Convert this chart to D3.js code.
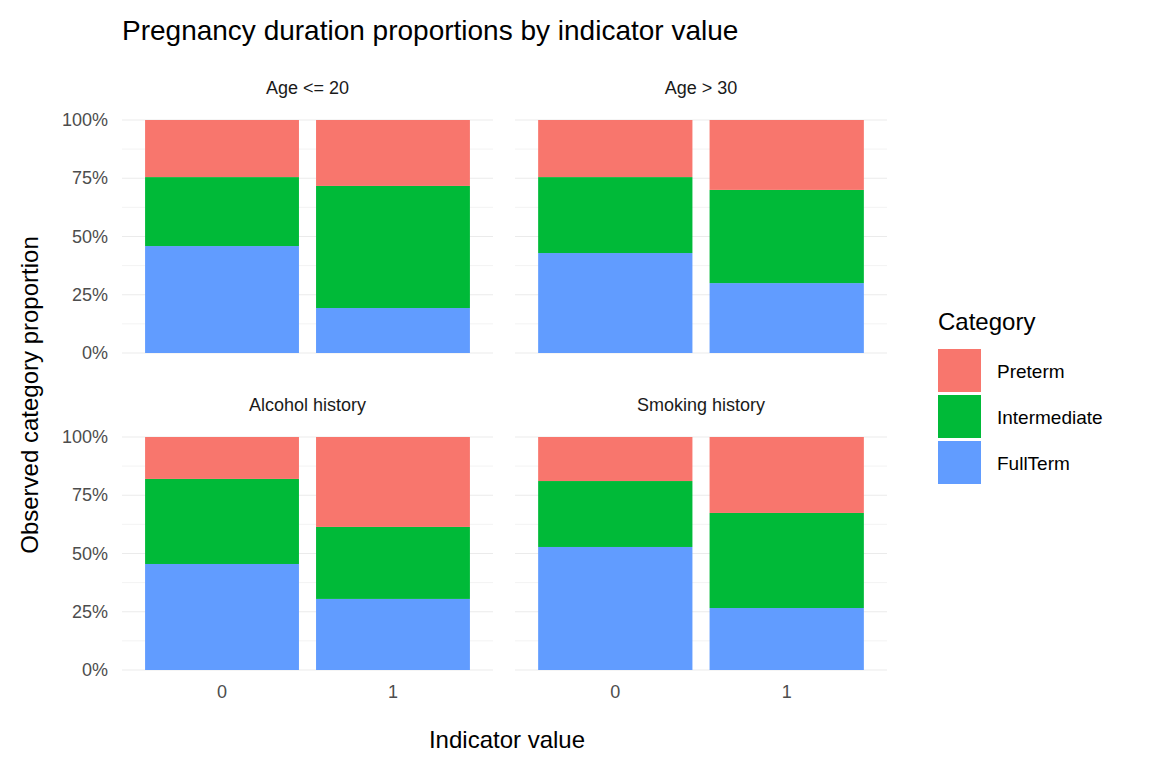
<!DOCTYPE html>
<html><head><meta charset="utf-8">
<script src="https://cdn.jsdelivr.net/npm/d3@7"></script>
<style>body{margin:0;background:#fff;font-family:Arial,"Liberation Sans",sans-serif}</style>
</head><body><div id="chart"></div>
<script>
const panels = ["Age <= 20", "Age > 30", "Alcohol history", "Smoking history"];
const indicators = ["0", "1"];
const categories = ["Preterm", "Intermediate", "FullTerm"];
const colors = ["#F8766D", "#00BA38", "#619CFF"];
// proportions per panel per indicator: [FullTerm, Intermediate, Preterm]
const fullTerm = [[0.459, 0.193], [0.429, 0.300], [0.455, 0.305], [0.528, 0.266]];
const intermediate = [[0.296, 0.524], [0.326, 0.400], [0.365, 0.309], [0.283, 0.408]];
const preterm = [[0.245, 0.283], [0.245, 0.300], [0.180, 0.386], [0.189, 0.326]];
const yTicks = [0, 0.25, 0.5, 0.75, 1];

const svg = d3.select("#chart").append("svg").attr("width", 1152).attr("height", 768);

svg.append("text").attr("x", 122).attr("y", 40).attr("font-size", 28).attr("fill", "#000")
    .text("Pregnancy duration proportions by indicator value");

const cols = [[122, 493], [515, 887]];
const rows = [[120, 353], [437, 670]];

panels.forEach((name, i) => {
    const c = cols[i % 2], r = rows[Math.floor(i / 2)];
    const g = svg.append("g");
    const x = d3.scaleBand().domain(indicators).range(c).paddingInner(0.1).paddingOuter(0.135);
    const y = d3.scaleLinear().domain([0, 1]).range([r[1], r[0]]);
    // grid
    d3.range(0, 1.01, 0.125).forEach(v => {
        g.append("line").attr("x1", c[0]).attr("x2", c[1]).attr("y1", y(v)).attr("y2", y(v))
            .attr("stroke", "#ebebeb").attr("stroke-width", v * 8 % 2 ? 0.6 : 1.2);
    });
    indicators.forEach(k => {
        const cx = x(k) + x.bandwidth() / 2;
        g.append("line").attr("x1", cx).attr("x2", cx).attr("y1", r[0]).attr("y2", r[1])
            .attr("stroke", "#ebebeb").attr("stroke-width", 1.2);
    });
    // bars
    indicators.forEach((k, j) => {
        const vals = [fullTerm[i][j], intermediate[i][j], preterm[i][j]];
        const cols2 = [colors[2], colors[1], colors[0]];
        let acc = 0;
        vals.forEach((v, n) => {
            g.append("rect").attr("x", x(k)).attr("width", x.bandwidth())
                .attr("y", y(acc + v)).attr("height", y(acc) - y(acc + v)).attr("fill", cols2[n]);
            acc += v;
        });
    });
    g.append("text").attr("x", (c[0] + c[1]) / 2).attr("y", r[0] - 26).attr("text-anchor", "middle")
        .attr("font-size", 18).attr("fill", "#1a1a1a").text(name);
    if (i % 2 === 0) {
        yTicks.forEach(v => {
            g.append("text").attr("x", c[0] - 14).attr("y", y(v) + 6).attr("text-anchor", "end")
                .attr("font-size", 18).attr("fill", "#4d4d4d").text(d3.format(".0%")(v));
        });
    }
    if (i >= 2) {
        indicators.forEach(k => {
            g.append("text").attr("x", x(k) + x.bandwidth() / 2).attr("y", r[1] + 28).attr("text-anchor", "middle")
                .attr("font-size", 18).attr("fill", "#4d4d4d").text(k);
        });
    }
});

svg.append("text").attr("x", 507).attr("y", 748).attr("text-anchor", "middle").attr("font-size", 24)
    .text("Indicator value");
svg.append("text").attr("transform", "translate(38,395) rotate(-90)").attr("text-anchor", "middle")
    .attr("font-size", 24).text("Observed category proportion");

const leg = svg.append("g");
leg.append("text").attr("x", 938).attr("y", 330).attr("font-size", 24).text("Category");
categories.forEach((cat, n) => {
    leg.append("rect").attr("x", 938).attr("y", 349 + n * 46).attr("width", 43).attr("height", 43).attr("fill", colors[n]);
    leg.append("text").attr("x", 997).attr("y", 378 + n * 46).attr("font-size", 19).text(cat);
});
</script></body></html>
